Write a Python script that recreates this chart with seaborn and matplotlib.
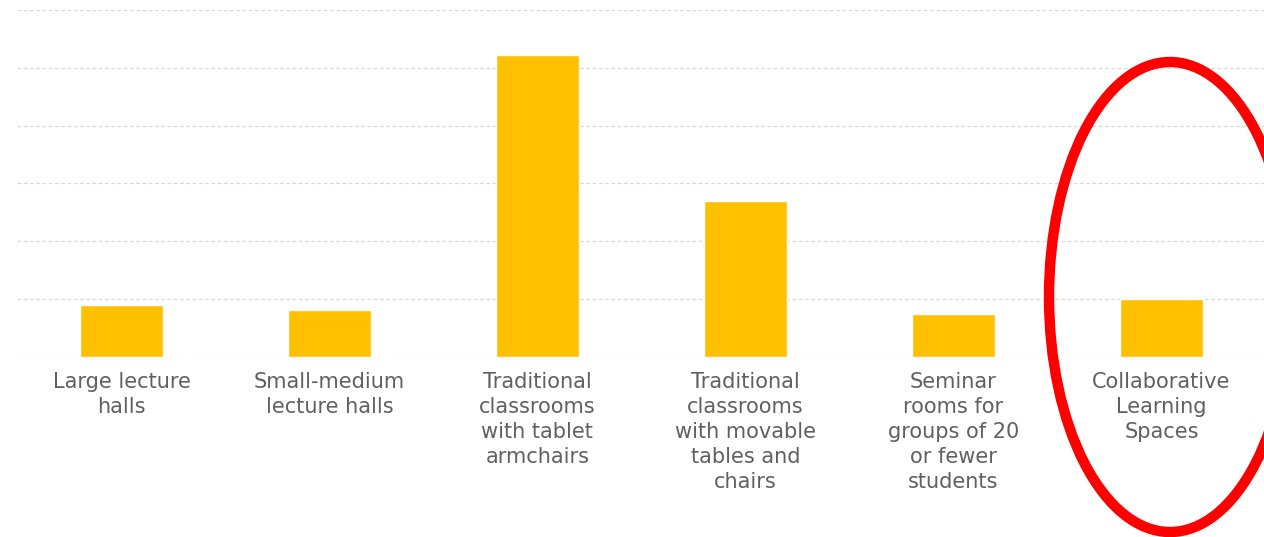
import numpy as np
import pandas as pd
import seaborn as sns
import matplotlib.pyplot as plt
from matplotlib.patches import Ellipse

categories = [
    'Large lecture\nhalls',
    'Small-medium\nlecture halls',
    'Traditional\nclassrooms\nwith tablet\narmchairs',
    'Traditional\nclassrooms\nwith movable\ntables and\nchairs',
    'Seminar\nrooms for\ngroups of 20\nor fewer\nstudents',
    'Collaborative\nLearning\nSpaces',
]
values = [4.5, 4.0, 26.1, 13.5, 3.7, 5.0]

df = pd.DataFrame({'space': categories, 'count': values})

sns.set_style('white')
plt.rcParams['font.family'] = ['DejaVu Sans']

fig = plt.figure(figsize=(12.64, 5.37), dpi=100)
ax = fig.add_axes([0.0138, 0.3357, 0.9873, 0.6457])

sns.barplot(data=df, x='space', y='count', color='#FFC000', width=0.4,
            saturation=1, ax=ax, zorder=3)

ax.set_ylim(0, 30)
ax.set_yticks(np.arange(0, 31, 5))
ax.set_yticklabels([])
ax.set_xlim(-0.5, 5.5)
ax.grid(axis='y', color='#d9d9d9', linestyle=(0, (3, 2)), linewidth=0.9, zorder=0)
ax.set_axisbelow(True)
for s in ax.spines.values():
    s.set_visible(False)
ax.set_xlabel('')
ax.set_ylabel('')
ax.tick_params(axis='x', length=0, pad=11, labelsize=15, labelcolor='#606060')
ax.tick_params(axis='y', length=0)
for lbl in ax.get_xticklabels():
    lbl.set_linespacing(1.31)

# red highlight around the last category
ell = Ellipse((1170 / 1264, 1 - 297 / 537), 242 / 1264, 470 / 537,
              transform=fig.transFigure, fill=False, edgecolor='#ff0000',
              linewidth=7.5, clip_on=False)
fig.patches.append(ell)

fig.savefig('out.png', dpi=100)
